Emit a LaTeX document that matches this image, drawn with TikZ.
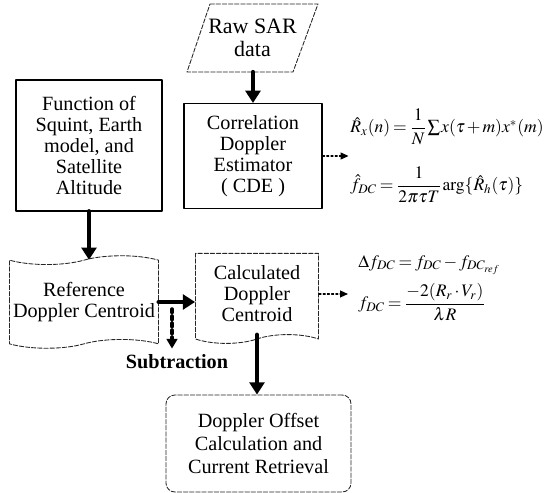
\documentclass[tikz,border=0pt]{standalone}
\usepackage{amsmath}
\usepackage{mathptmx}
\usepackage{fontspec}
\setmainfont{Liberation Serif}
\usetikzlibrary{shapes.symbols,arrows.meta}
\newcommand{\tightmath}{\thinmuskip=1mu\medmuskip=2mu\thickmuskip=3mu}

\begin{document}
\begin{tikzpicture}[
    x=0.02cm,y=-0.02cm,
    font=\fontsize{11.5}{12}\selectfont,
    line cap=round,
    line join=round,
    solidbox/.style={draw=black,line width=0.6pt,align=center,inner sep=2pt},
    dashbox/.style={draw=black!85,line width=0.5pt,dash pattern=on 2.5pt off 1pt,align=center,inner sep=2pt},
    bigarrow/.style={line width=2.8pt,-{Triangle[width=8.5pt,length=7pt]}},
    dotarrow/.style={line width=0.6pt,dash pattern=on 1.2pt off 1.2pt,-{Triangle[width=4pt,length=4.5pt]}},
    thickdotarrow/.style={line width=2pt,dash pattern=on 2pt off 2pt,-{Triangle[width=6pt,length=5.5pt]}},
    formula/.style={inner sep=0pt,anchor=west,font=\fontsize{10}{12}\selectfont}
]

\useasboundingbox (0,0) rectangle (556,493);

\node[align=center,minimum width=2.12cm,minimum height=1.36cm,
    font=\fontsize{12.5}{13}\selectfont] (raw) at (252.5,38) {Raw SAR\\data};
\draw[dashbox] (210,4) -- (318,4) -- (293,72) -- (187,72) -- cycle;

\node[solidbox,minimum width=2.92cm,minimum height=2.62cm] (func) at (89,145.5)
    {Function of\\Squint, Earth\\model, and\\Satellite\\Altitude};
\node[solidbox,minimum width=2.76cm,minimum height=2.1cm] (cde) at (253,156)
    {Correlation\\Doppler\\Estimator\\( CDE )};

\node[dashbox,tape,minimum width=2.64cm,minimum height=1.85cm] (ref) at (84,302)
    {Reference\\Doppler Centroid};
\node[dashbox,tape,tape bend top=none,minimum width=2.46cm,minimum height=1.8cm] (calc) at (257,294)
    {Calculated\\Doppler\\Centroid};

\node[font=\fontsize{11.5}{12}\selectfont\bfseries] (sub) at (177,362) {Subtraction};

\node[dashbox,rounded corners=5pt,minimum width=3.7cm,minimum height=1.94cm,
    font=\fontsize{11.5}{13}\selectfont] (off) at (258.5,443.5)
    {Doppler Offset\\Calculation and\\Current Retrieval};

\node[formula] (rx) at (350,127) {$\tightmath\hat{R}_x(n)=\dfrac{1}{N}\sum x(\tau+m)x^*(m)$};
\node[formula] (fdc) at (350,185) {$\tightmath\hat{f}_{DC}=\dfrac{1}{2\pi\tau T}\arg\{\hat{R}_h(\tau)\}$};
\node[formula] (dfdc) at (358,265) {$\tightmath\Delta f_{DC}=f_{DC}-f_{DC_{ref}}$};
\node[formula] (fdcr) at (358,302) {$\tightmath f_{DC}=\dfrac{-2(R_r\cdot V_r)}{\lambda R}$};

\coordinate (split) at (172,309);
\coordinate (cdeout) at ([xshift=0.52cm]cde.east);
\coordinate (calcout) at ([xshift=0.58cm]calc.east);

\draw[bigarrow] (raw.south -| cde.north) -- (cde.north);
\draw[bigarrow] (func.south) -- (func.south |- ref.north);
\draw[bigarrow] (ref.east) -- (ref.east -| calc.west);
\draw[thickdotarrow] (split) -- (split |- sub.north);
\draw[bigarrow] (calc.south) -- (calc.south |- off.north);
\draw[dotarrow] (cde.east) -- (cdeout);
\draw[dotarrow] (calc.east) -- (calcout);

\end{tikzpicture}
\end{document}
